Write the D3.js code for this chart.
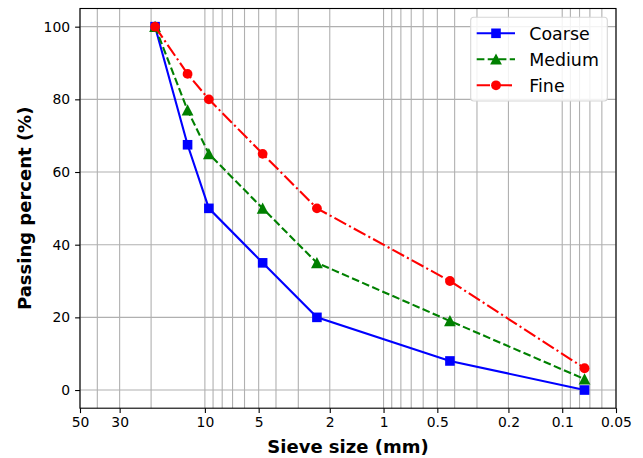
<!DOCTYPE html>
<html>
<head>
<meta charset="utf-8">
<script src="https://cdn.jsdelivr.net/npm/d3@7"></script>
<style>
  html, body { margin: 0; padding: 0; background: #fff; }
  svg { display: block; font-family: "DejaVu Sans", sans-serif; }
</style>
</head>
<body>
<svg id="chart" width="643" height="458"></svg>
<script>
// ---- data ----
const sieveSizes = [19, 12.5, 9.5, 4.75, 2.36, 0.425, 0.075];
const coarse = [100, 67.5, 50, 35, 20, 8, 0];
const medium = [100, 77, 65, 50, 35, 19, 3];
const fine   = [100, 87, 80, 65, 50, 30, 6];
const xTickValues = [50, 30, 10, 5, 2, 1, 0.5, 0.2, 0.1, 0.05];
const yTickValues = [0, 20, 40, 60, 80, 100];
const seriesNames = ["Coarse", "Medium", "Fine"];

// ---- layout ----
const W = 643, H = 458;
const plot = { left: 80, right: 616, top: 8.5, bottom: 408.2 };
const svg = d3.select("#chart");

const x = d3.scaleLog().domain([50, 0.05]).range([plot.left, plot.right]);
const y = d3.scaleLinear().domain([-5, 105]).range([plot.bottom, plot.top]);

const gridColor = "#b0b0b0";

// grid: vertical (major + minor log positions)
const gGrid = svg.append("g");
gGrid.selectAll("line.vx").data(x.ticks()).join("line")
  .attr("x1", d => x(d)).attr("x2", d => x(d))
  .attr("y1", plot.top).attr("y2", plot.bottom)
  .attr("stroke", gridColor).attr("stroke-width", 1.1);
gGrid.selectAll("line.hy").data(yTickValues).join("line")
  .attr("x1", plot.left).attr("x2", plot.right)
  .attr("y1", d => y(d)).attr("y2", d => y(d))
  .attr("stroke", gridColor).attr("stroke-width", 1.1);

// series
const styles = [
  { name: seriesNames[0], values: coarse, color: "#0000ff", dash: null, marker: "square" },
  { name: seriesNames[1], values: medium, color: "#008000", dash: "7.7,3.3", marker: "triangle" },
  { name: seriesNames[2], values: fine,   color: "#ff0000", dash: "13.3,3.3,2.1,3.3", marker: "circle" }
];

const line = d3.line().x(d => x(d[0])).y(d => y(d[1]));

function drawMarker(g, type, cx, cy, color) {
  if (type === "square") {
    g.append("rect").attr("x", cx - 4.8).attr("y", cy - 4.8)
      .attr("width", 9.6).attr("height", 9.6).attr("fill", color);
  } else if (type === "triangle") {
    const s = 5.9;
    g.append("path")
      .attr("d", `M${cx},${cy - s} L${cx + s},${cy + s * 0.9} L${cx - s},${cy + s * 0.9} Z`)
      .attr("fill", color);
  } else {
    g.append("circle").attr("cx", cx).attr("cy", cy).attr("r", 4.9).attr("fill", color);
  }
}

const gSeries = svg.append("g");
styles.forEach(s => {
  const pts = sieveSizes.map((v, i) => [v, s.values[i]]);
  const g = gSeries.append("g");
  g.append("path").attr("d", line(pts))
    .attr("fill", "none").attr("stroke", s.color).attr("stroke-width", 2.1)
    .attr("stroke-dasharray", s.dash);
  pts.forEach(p => drawMarker(g, s.marker, x(p[0]), y(p[1]), s.color));
});

// spines
svg.append("rect")
  .attr("x", plot.left).attr("y", plot.top)
  .attr("width", plot.right - plot.left).attr("height", plot.bottom - plot.top)
  .attr("fill", "none").attr("stroke", "#000").attr("stroke-width", 1.1);

// axes
const xAxis = d3.axisBottom(x).tickValues(xTickValues)
  .tickFormat(d => String(d)).tickSize(4.9).tickPadding(4.2);
const gx = svg.append("g").attr("transform", `translate(0,${plot.bottom})`).call(xAxis);
gx.select(".domain").remove();
gx.selectAll(".tick line").attr("stroke", "#000").attr("stroke-width", 1.1);
gx.selectAll(".tick text").attr("font-size", "13.9px").attr("fill", "#000")
  .attr("font-family", "DejaVu Sans");

const yAxis = d3.axisLeft(y).tickValues(yTickValues).tickSize(4.9).tickPadding(5);
const gy = svg.append("g").attr("transform", `translate(${plot.left},0)`).call(yAxis);
gy.select(".domain").remove();
gy.selectAll(".tick line").attr("stroke", "#000").attr("stroke-width", 1.1);
gy.selectAll(".tick text").attr("font-size", "13.9px").attr("fill", "#000")
  .attr("font-family", "DejaVu Sans");

// axis labels
svg.append("text")
  .attr("x", (plot.left + plot.right) / 2).attr("y", 453)
  .attr("text-anchor", "middle").attr("font-weight", "bold").attr("font-size", "18px")
  .text("Sieve size (mm)");
svg.append("text")
  .attr("transform", `translate(31,${(plot.top + plot.bottom) / 2}) rotate(-90)`)
  .attr("text-anchor", "middle").attr("font-weight", "bold").attr("font-size", "18px")
  .text("Passing percent (%)");

// legend
const lg = svg.append("g");
lg.append("rect")
  .attr("x", 470.7).attr("y", 17.3).attr("width", 136.6).attr("height", 83.7)
  .attr("rx", 3).attr("fill", "#fff").attr("fill-opacity", 0.85)
  .attr("stroke", "#d6d6d6").attr("stroke-width", 1.1);
const rowY = [33.3, 59.3, 85.3];
styles.forEach((s, i) => {
  const cy = rowY[i];
  lg.append("line").attr("x1", 476.7).attr("x2", 515).attr("y1", cy).attr("y2", cy)
    .attr("stroke", s.color).attr("stroke-width", 2.1)
    .attr("stroke-dasharray", s.dash);
  drawMarker(lg, s.marker, 496, cy, s.color);
  lg.append("text").attr("x", 529.3).attr("y", cy + 6.2)
    .attr("font-size", "17.4px").attr("fill", "#000").text(s.name);
});
</script>
</body>
</html>
